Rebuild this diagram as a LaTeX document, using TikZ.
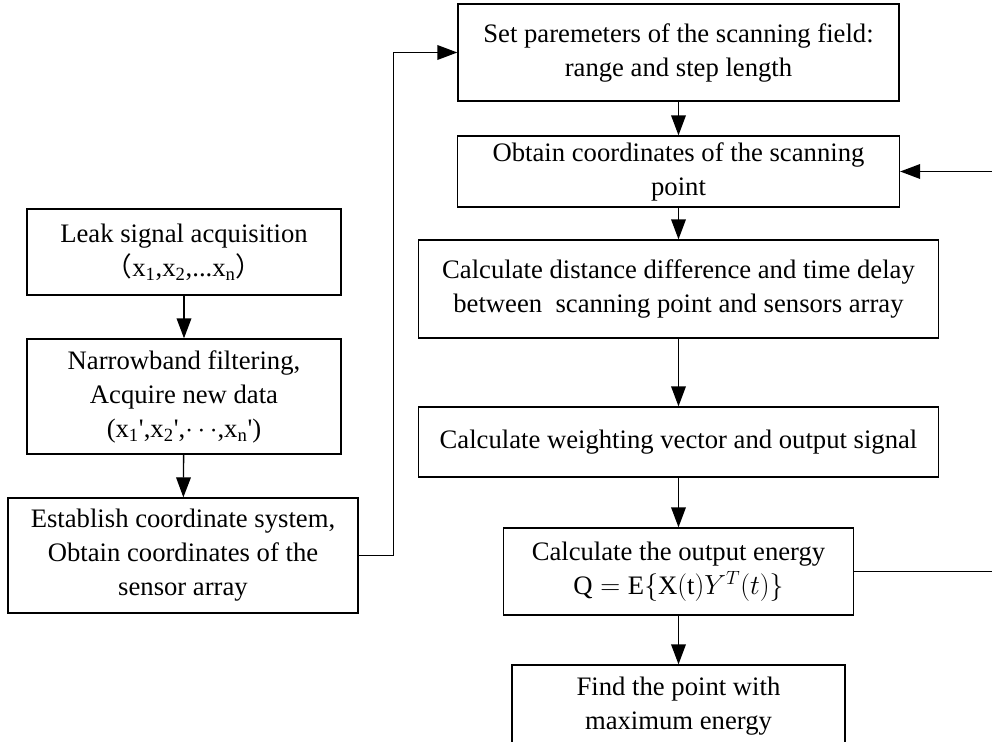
\documentclass[tikz,border=0pt]{standalone}
\usepackage{fontspec}
\setmainfont{Liberation Serif}
\newfontfamily\cjk{Noto Sans CJK SC}
\usetikzlibrary{arrows.meta,positioning}

\begin{document}
\begin{tikzpicture}[
    x=0.75pt, y=-0.75pt,
    stepbox/.style={rectangle, draw, line width=1pt, inner sep=0pt, align=center, font=\fontsize{20}{25.5}\selectfont},
    arr/.style={-{Triangle[length=15pt, width=11pt]}, line width=1pt},
    wire/.style={line width=1pt}
]
\useasboundingbox (0,0) rectangle (992,742);

% left column
\node[stepbox, minimum width=235.5pt, minimum height=64.5pt] (leak) at (184, 252) {Leak signal acquisition\\{\cjk （}x\textsubscript{1},x\textsubscript{2},...x\textsubscript{n}{\cjk ）}};
\node[stepbox, minimum width=235.5pt, minimum height=86.25pt] (narrow) at (184, 396.5) {Narrowband filtering,\\Acquire new data\\(x\textsubscript{1}\textquotesingle,x\textsubscript{2}\textquotesingle,$\cdots$,x\textsubscript{n}\textquotesingle)};
\node[stepbox, minimum width=262.5pt, minimum height=86.25pt] (establish) at (183, 555.5) {Establish coordinate system,\\Obtain coordinates of the\\sensor array};

% right column
\node[stepbox, minimum width=330.75pt, minimum height=72.75pt] (setpar) at (678.5, 52.5) {Set paremeters of the scanning field:\\range and step length};
\node[stepbox, minimum width=331.5pt, minimum height=53.25pt] (obtain) at (678.5, 171.5) {Obtain coordinates of the scanning\\point};
\node[stepbox, minimum width=390pt, minimum height=73.5pt] (dist) at (678.5, 289) {Calculate distance difference and time delay\\between\ \ scanning point and sensors array};
\node[stepbox, minimum width=390pt, minimum height=52.5pt] (weight) at (678.5, 442) {Calculate weighting vector and output signal};
\node[stepbox, minimum width=262.5pt, minimum height=65.25pt] (energy) at (678.5, 571.5) {Calculate the output energy\\$\mathrm{Q}=\mathrm{E}\{\mathrm{X(t)}Y^{T}(t)\}$};
\node[stepbox, minimum width=249.75pt, minimum height=61.5pt] (find) at (678.5, 706) {Find the point with\\maximum energy};

\draw[arr] (leak) -- (narrow);
\draw[arr] (narrow) -- (establish);
\draw[arr] (establish.east) -- ++(35, 0) |- (setpar.west);

\draw[arr] (setpar) -- (obtain);
\draw[arr] (obtain) -- (dist);
\draw[arr] (dist) -- (weight);
\draw[arr] (weight) -- (energy);
\draw[arr] (energy) -- (find);

% loop back to the next scanning point
\coordinate (edge) at (993, 571.5);
\draw[wire] (energy.east) -- (edge);
\draw[arr] (edge) |- (obtain.east);
\end{tikzpicture}
\end{document}
